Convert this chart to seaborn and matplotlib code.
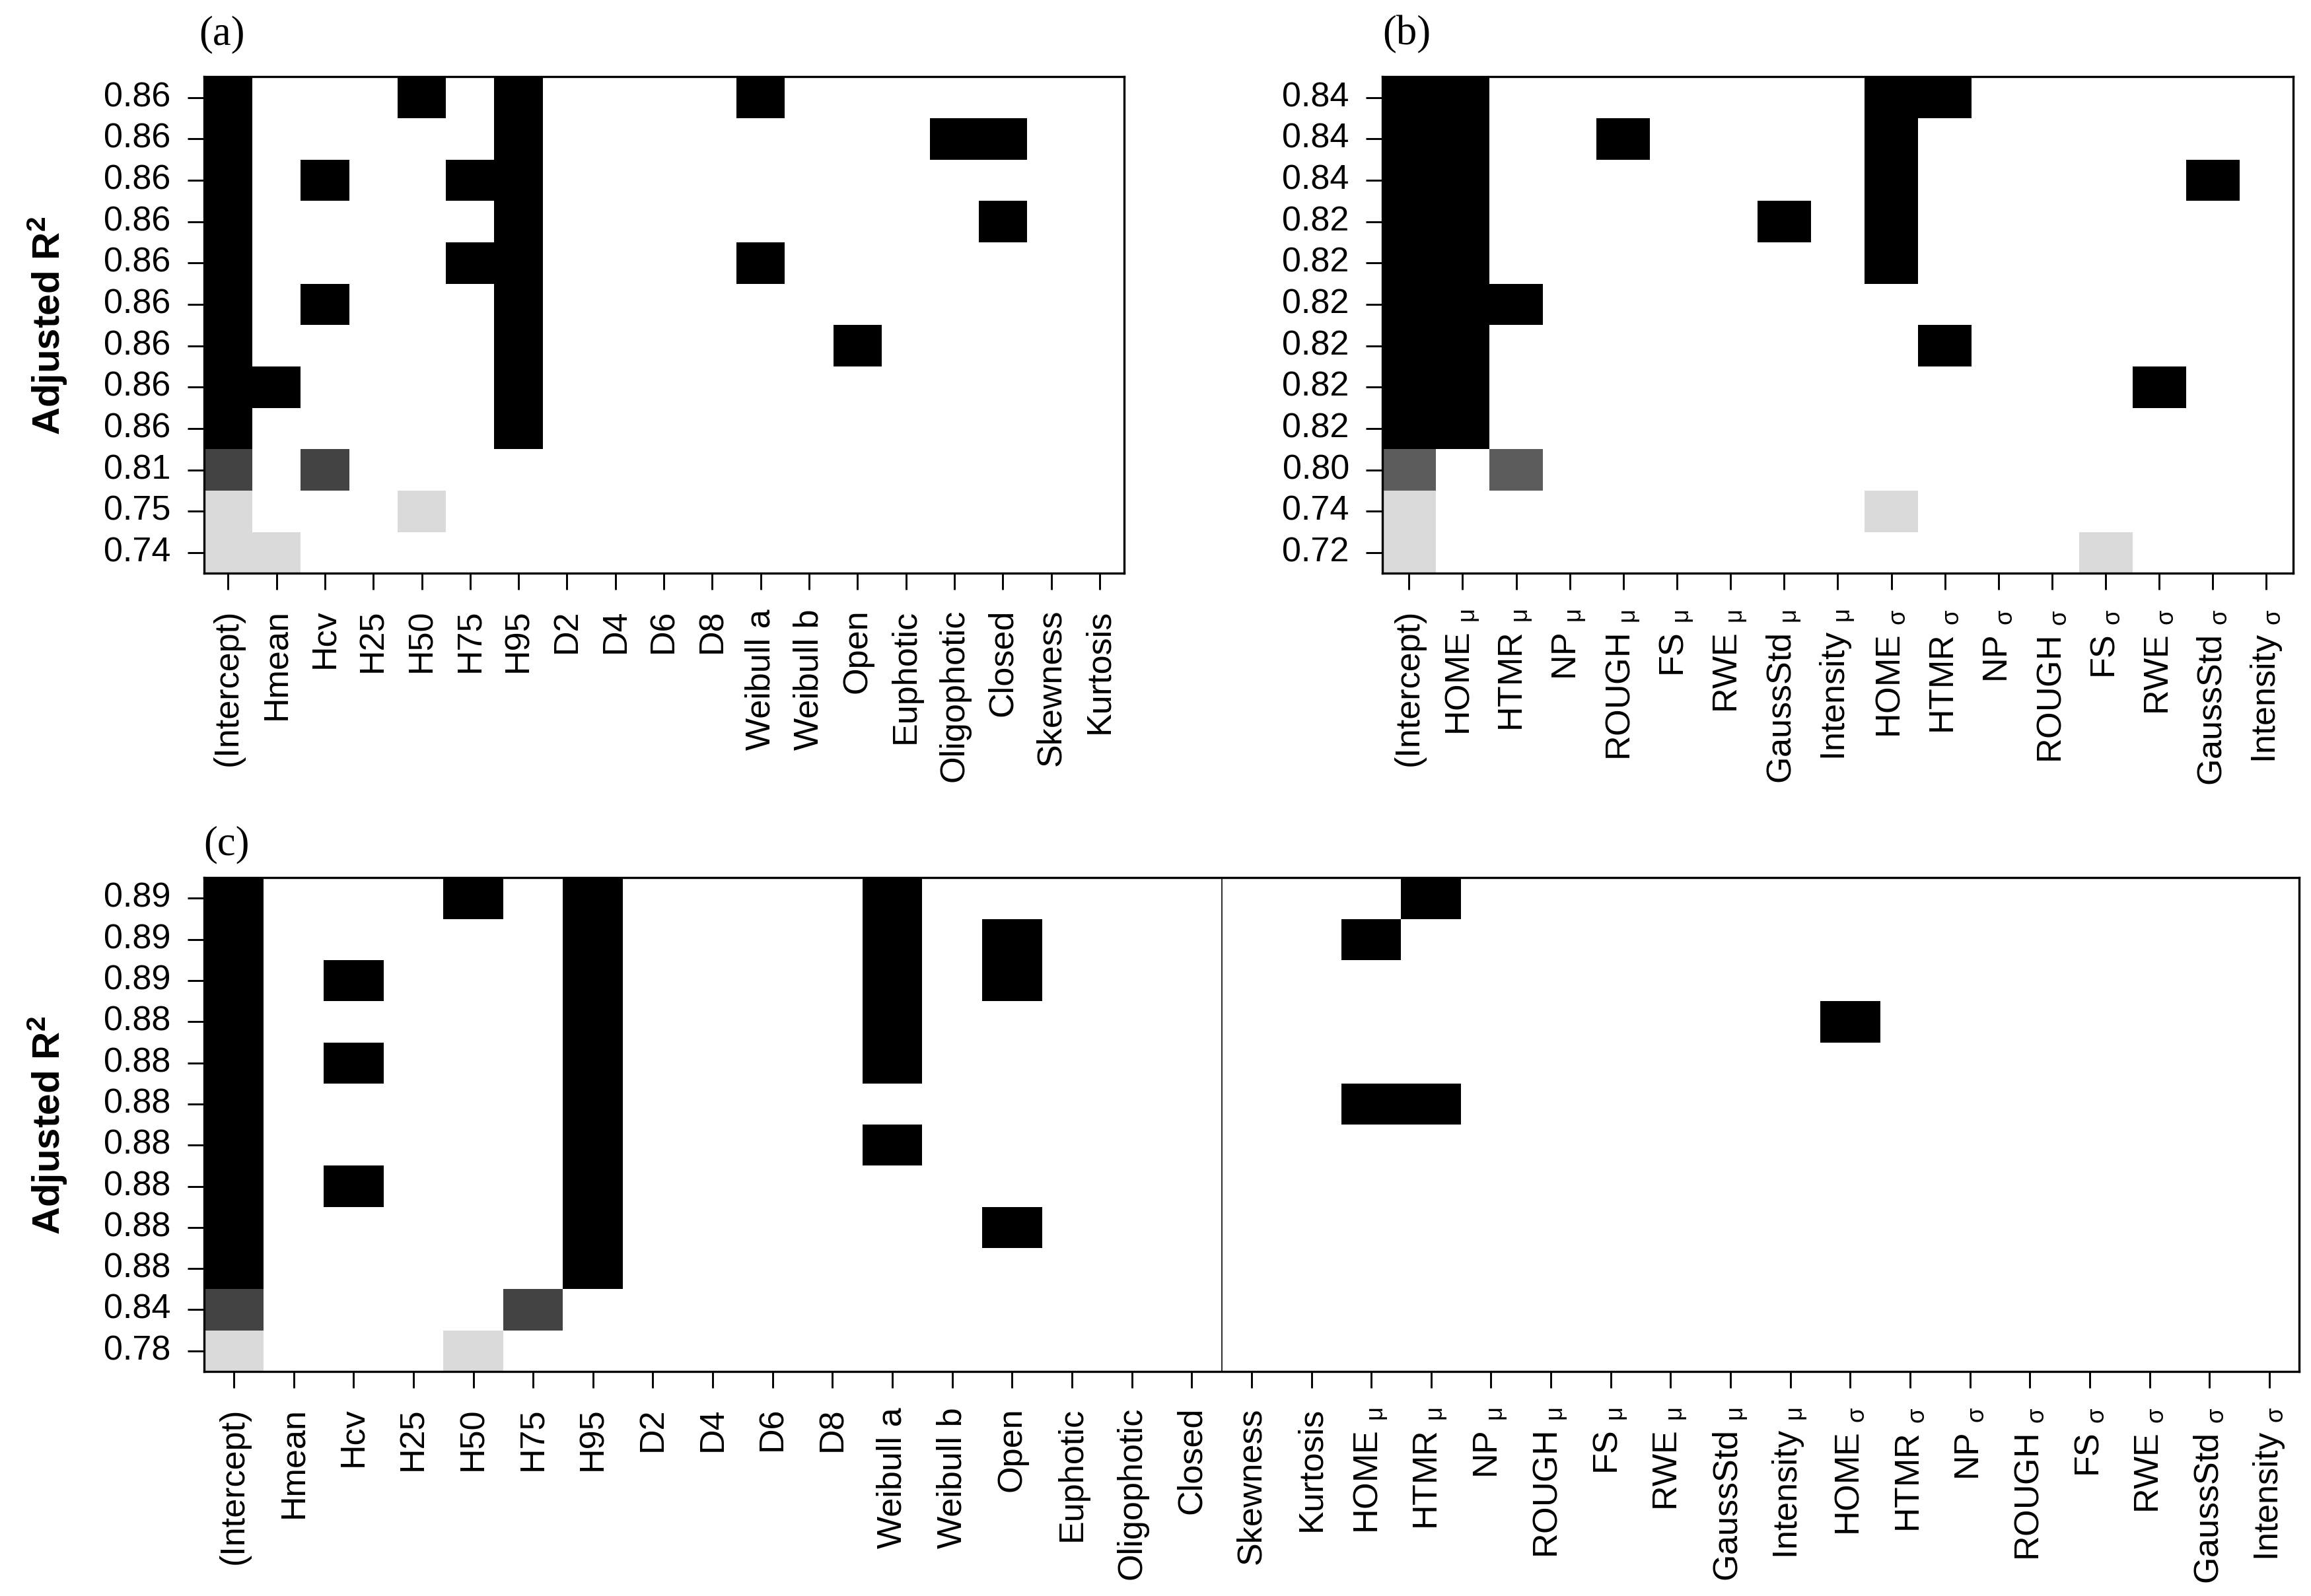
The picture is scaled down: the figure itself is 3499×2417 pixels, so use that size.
"""Best-subset regression plots (adjusted R2) for three predictor sets."""

import matplotlib
matplotlib.use('Agg')
import matplotlib.pyplot as plt
import numpy as np
import pandas as pd
import seaborn as sns

# ---- data -----------------------------------------------------------------
vars_a = ['(Intercept)', 'Hmean', 'Hcv', 'H25', 'H50', 'H75', 'H95',
          'D2', 'D4', 'D6', 'D8', 'Weibull a', 'Weibull b', 'Open',
          'Euphotic', 'Oligophotic', 'Closed', 'Skewness', 'Kurtosis']

vars_b = ['(Intercept)', 'HOMEμ', 'HTMRμ', 'NPμ', 'ROUGHμ', 'FSμ', 'RWEμ',
          'GaussStdμ', 'Intensityμ', 'HOMEσ', 'HTMRσ', 'NPσ', 'ROUGHσ',
          'FSσ', 'RWEσ', 'GaussStdσ', 'Intensityσ']

vars_c = vars_a + vars_b[1:]

r2_a = ['0.86', '0.86', '0.86', '0.86', '0.86', '0.86', '0.86', '0.86',
        '0.86', '0.81', '0.75', '0.74']
r2_b = ['0.84', '0.84', '0.84', '0.82', '0.82', '0.82', '0.82', '0.82',
        '0.82', '0.80', '0.74', '0.72']
r2_c = ['0.89', '0.89', '0.89', '0.88', '0.88', '0.88', '0.88', '0.88',
        '0.88', '0.88', '0.84', '0.78']

models_a = [
    ['(Intercept)', 'H50', 'H95', 'Weibull a'],
    ['(Intercept)', 'H95', 'Oligophotic', 'Closed'],
    ['(Intercept)', 'Hcv', 'H75', 'H95'],
    ['(Intercept)', 'H95', 'Closed'],
    ['(Intercept)', 'H75', 'H95', 'Weibull a'],
    ['(Intercept)', 'Hcv', 'H95'],
    ['(Intercept)', 'H95', 'Open'],
    ['(Intercept)', 'Hmean', 'H95'],
    ['(Intercept)', 'H95'],
    ['(Intercept)', 'Hcv'],
    ['(Intercept)', 'H50'],
    ['(Intercept)', 'Hmean'],
]

models_b = [
    ['(Intercept)', 'HOMEμ', 'HOMEσ', 'HTMRσ'],
    ['(Intercept)', 'HOMEμ', 'ROUGHμ', 'HOMEσ'],
    ['(Intercept)', 'HOMEμ', 'HOMEσ', 'GaussStdσ'],
    ['(Intercept)', 'HOMEμ', 'GaussStdμ', 'HOMEσ'],
    ['(Intercept)', 'HOMEμ', 'HOMEσ'],
    ['(Intercept)', 'HOMEμ', 'HTMRμ'],
    ['(Intercept)', 'HOMEμ', 'HTMRσ'],
    ['(Intercept)', 'HOMEμ', 'RWEσ'],
    ['(Intercept)', 'HOMEμ'],
    ['(Intercept)', 'HTMRμ'],
    ['(Intercept)', 'HOMEσ'],
    ['(Intercept)', 'FSσ'],
]

models_c = [
    ['(Intercept)', 'H50', 'H95', 'Weibull a', 'HTMRμ'],
    ['(Intercept)', 'H95', 'Weibull a', 'Open', 'HOMEμ'],
    ['(Intercept)', 'Hcv', 'H95', 'Weibull a', 'Open'],
    ['(Intercept)', 'H95', 'Weibull a', 'HOMEσ'],
    ['(Intercept)', 'Hcv', 'H95', 'Weibull a'],
    ['(Intercept)', 'H95', 'HOMEμ', 'HTMRμ'],
    ['(Intercept)', 'H95', 'Weibull a'],
    ['(Intercept)', 'Hcv', 'H95'],
    ['(Intercept)', 'H95', 'Open'],
    ['(Intercept)', 'H95'],
    ['(Intercept)', 'H75'],
    ['(Intercept)', 'H50'],
]

# ---- style ----------------------------------------------------------------
# grey level of the included cells in each row (0 = black)
shade_a = [0, 0, 0, 0, 0, 0, 0, 0, 0, 0.263, 0.855, 0.855]
shade_b = [0, 0, 0, 0, 0, 0, 0, 0, 0, 0.36, 0.855, 0.855]
shade_c = [0, 0, 0, 0, 0, 0, 0, 0, 0, 0, 0.263, 0.855]

plt.rcParams['font.family'] = ['Liberation Sans', 'DejaVu Sans']
plt.rcParams['mathtext.fontset'] = 'custom'
plt.rcParams['mathtext.rm'] = 'Liberation Sans'
plt.rcParams['mathtext.it'] = 'Liberation Sans'
plt.rcParams['mathtext.bf'] = 'Liberation Sans:bold'

TICK_SIZE = 12.5


def _label(name):
    if name.endswith('μ'):
        return name[:-1] + r' $_{\mu}$'
    if name.endswith('σ'):
        return name[:-1] + r' $_{\sigma}$'
    return name


def _frame(variables, models, shades, r2):
    cells = np.ones((len(models), len(variables)))
    for i, (model, shade) in enumerate(zip(models, shades)):
        for name in model:
            cells[i, variables.index(name)] = shade
    return pd.DataFrame(cells, index=r2, columns=[_label(v) for v in variables])


def _plot(ax, df):
    sns.heatmap(df, cmap='gray', vmin=0, vmax=1, cbar=False, ax=ax,
                xticklabels=True, yticklabels=True)
    for sp in ax.spines.values():
        sp.set_visible(True)
        sp.set_color('black')
        sp.set_linewidth(0.8)
    ax.tick_params(axis='both', length=6, width=0.7,
                   labelsize=TICK_SIZE, color='black')
    ax.tick_params(axis='x', pad=7)
    ax.tick_params(axis='y', pad=6)
    plt.setp(ax.get_yticklabels(), rotation=0)
    plt.setp(ax.get_xticklabels(), rotation=90)
    ax.set_xlabel('')
    ax.set_ylabel('')


fig = plt.figure(figsize=(3499 / 300, 2417 / 300), dpi=300)

ax_a = fig.add_axes([0.0882, 0.6407, 0.3981, 0.3112])
ax_b = fig.add_axes([0.5981, 0.6407, 0.3942, 0.3112])
ax_c = fig.add_axes([0.0882, 0.1407, 0.9067, 0.3093])

_plot(ax_a, _frame(vars_a, models_a, shade_a, r2_a))
_plot(ax_b, _frame(vars_b, models_b, shade_b, r2_b))
_plot(ax_c, _frame(vars_c, models_c, shade_c, r2_c))
ax_c.axvline(vars_c.index('Skewness'), color='#333333', lw=0.5)

for x, y, tag in [(0.0862, 0.9785, '(a)'), (0.5981, 0.9785, '(b)'),
                  (0.0882, 0.4705, '(c)')]:
    fig.text(x, y, tag, family='Liberation Serif', fontsize=15,
             ha='left', va='center')

ylabel = r'Adjusted R$^{\mathbf{2}}$'
for y in (0.796, 0.295):
    fig.text(0.0205, y, ylabel, rotation=90, fontsize=14, fontweight='bold',
             ha='center', va='center')

fig.savefig('out.png', dpi=300)
